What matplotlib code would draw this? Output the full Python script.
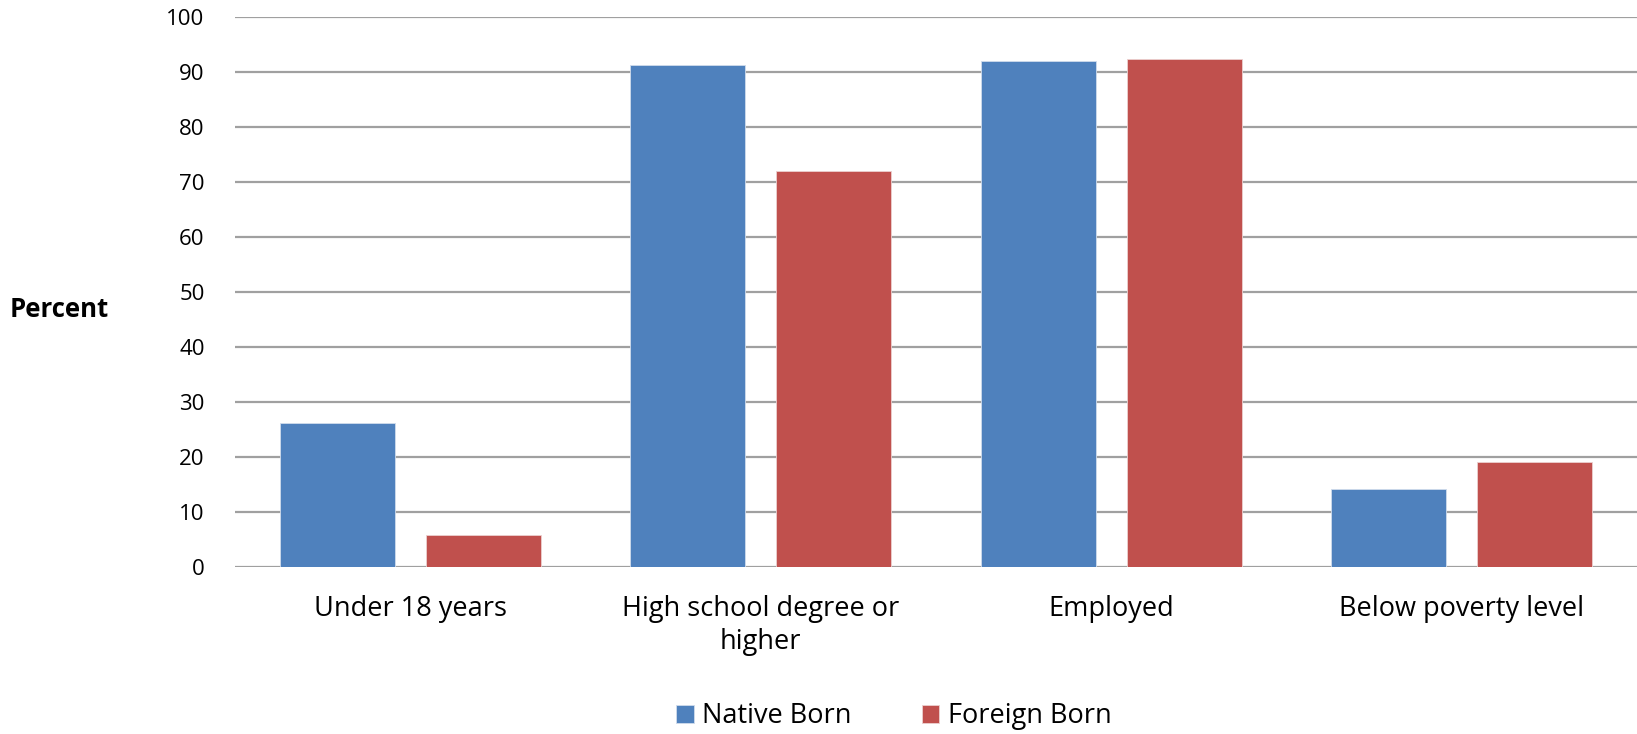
import matplotlib.pyplot as plt
import numpy as np

categories = ["Under 18 years", "High school degree or\nhigher", "Employed", "Below poverty level"]
native_born = [26.3, 91.4, 92.1, 14.2]
foreign_born = [5.8, 72.1, 92.4, 19.1]
yticks = list(range(0, 101, 10))

plt.rcParams["font.family"] = ["Open Sans", "DejaVu Sans"]

fig = plt.figure(figsize=(16.37, 7.34), dpi=100)
ax = fig.add_axes([0.1436, 0.2271, 0.8564, 0.7493])

x = np.arange(len(categories))
width = 0.328
offset = 0.208
ax.bar(x - offset, native_born, width, color="#4F81BD", edgecolor="#d0dcec", linewidth=0.6,
       label="Native Born", zorder=3)
ax.bar(x + offset, foreign_born, width, color="#C0504D", edgecolor="#ecd0d0", linewidth=0.6,
       label="Foreign Born", zorder=3)

ax.set_xlim(-0.5, len(categories) - 0.5)
ax.set_ylim(0, 100)
ax.set_yticks(yticks)
ax.set_xticks(x)
ax.set_xticklabels(categories, fontsize=19.5, linespacing=1.25)
ax.tick_params(axis="x", length=0, pad=20)
ax.tick_params(axis="y", length=0, pad=22, labelsize=16)
ax.yaxis.grid(True, color="#a0a0a0", linewidth=1.6, zorder=0)
for s in ax.spines.values():
    s.set_visible(False)

fig.text(0.036, 0.579, "Percent", fontsize=18.5, fontweight="bold", ha="center", va="center")

fig.legend(loc="center", bbox_to_anchor=(0.546, 0.024), ncol=2, frameon=False, fontsize=19.5,
           handlelength=0.65, handleheight=0.65, handletextpad=0.3, columnspacing=2.6)

fig.savefig("out.png", dpi=100)
